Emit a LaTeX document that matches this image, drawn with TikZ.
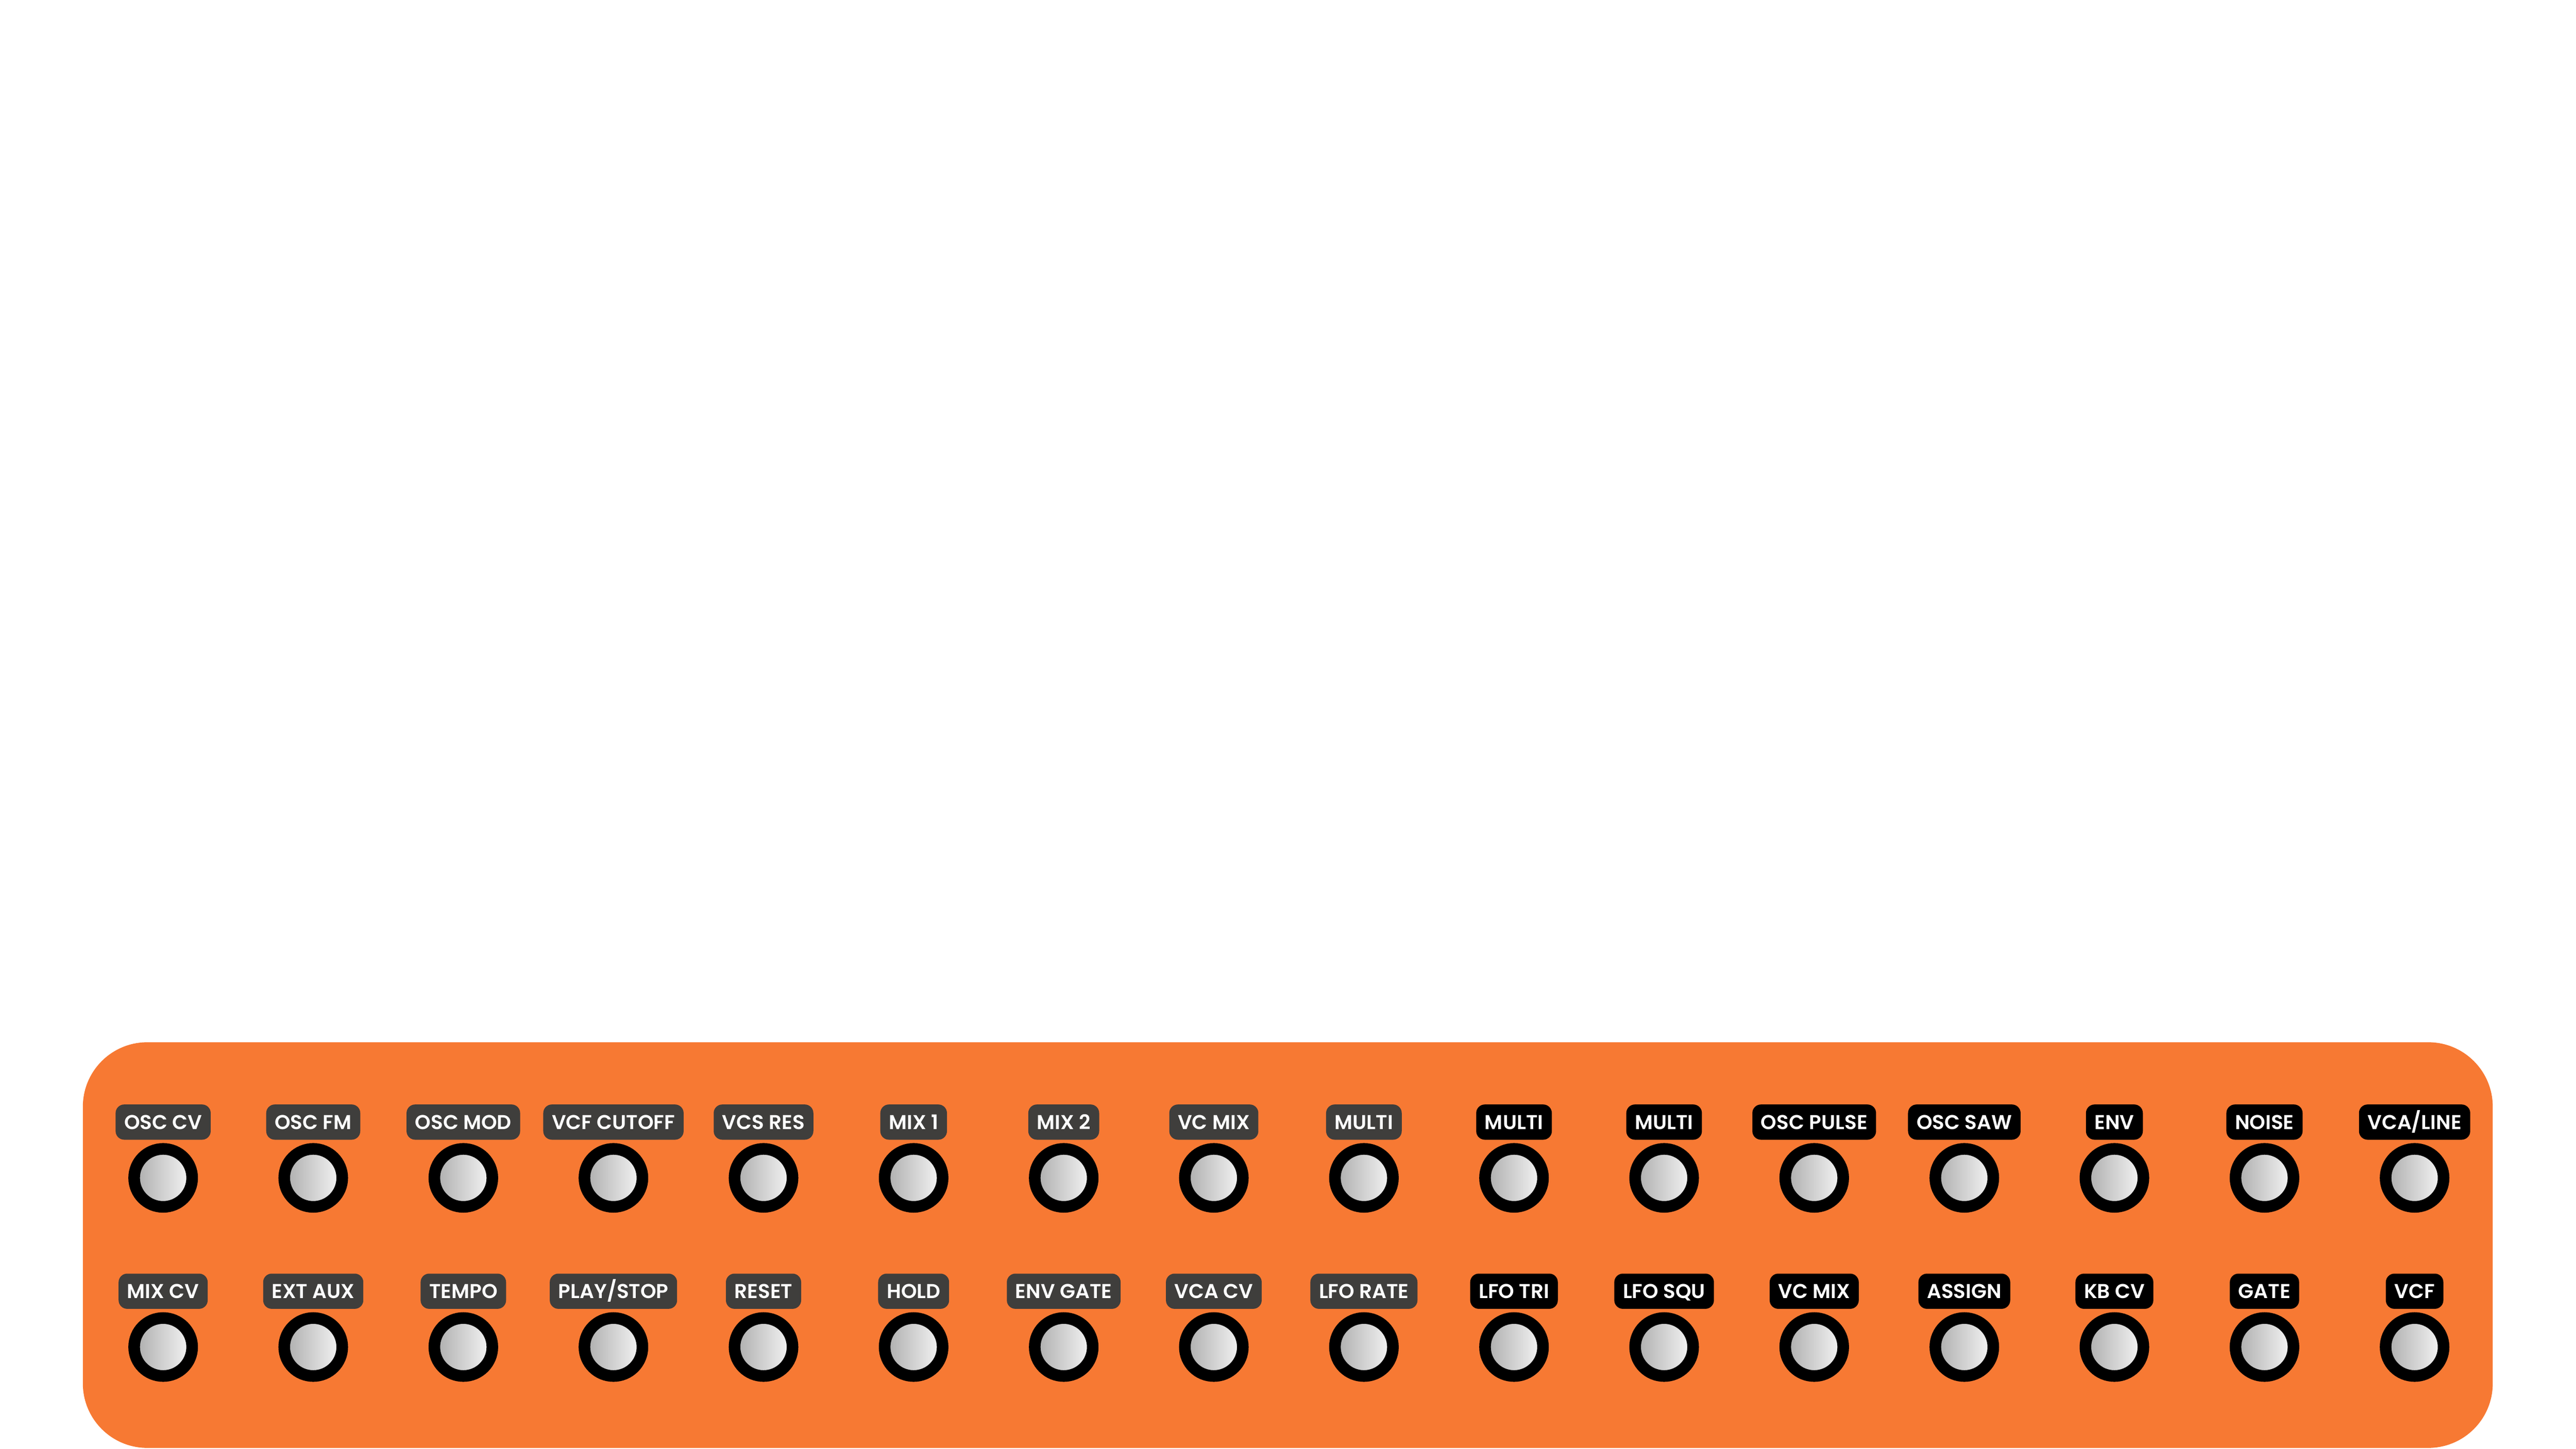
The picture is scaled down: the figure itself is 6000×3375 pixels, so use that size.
\documentclass[tikz,border=0pt]{standalone}
\usepackage{fontspec}
\setmainfont{Poppins}
\newfontfamily\tagfont{Poppins SemiBold}
\definecolor{panel}{RGB}{247,121,51}
\definecolor{tagdark}{RGB}{63,62,60}
\definecolor{tagblack}{RGB}{0,0,0}
\tikzset{
  tag/.style={rounded corners=0.2cm, minimum height=0.82cm, inner xsep=0.2cm, inner ysep=0pt,
    text height=0.34cm, text depth=0pt,
    text=white, font=\tagfont\fontsize{13.3pt}{14pt}\selectfont, anchor=center},
  jack/.style={circle, minimum size=1.35cm, inner sep=0pt, draw=black, line width=0.27cm,
    shading=axis, left color=black!33, right color=black!3, shading angle=90},
}
\begin{document}
\begin{tikzpicture}[x=0.01cm,y=-0.01cm]
\useasboundingbox (0,0) rectangle (6000,3375);
\fill[panel, rounded corners=1.5cm] (193,2428) rectangle (5806,3373);
\def\rowone{OSC CV,OSC FM,OSC MOD,VCF CUTOFF,VCS RES,MIX 1,MIX 2,VC MIX,MULTI,MULTI,MULTI,OSC PULSE,OSC SAW,ENV,NOISE,VCA/LINE}
\def\rowtwo{MIX CV,EXT AUX,TEMPO,PLAY/STOP,RESET,HOLD,ENV GATE,VCA CV,LFO RATE,LFO TRI,LFO SQU,VC MIX,ASSIGN,KB CV,GATE,VCF}
\foreach \t [count=\i] in \rowone {
  \pgfmathsetmacro{\xx}{380+(\i-1)*349.6}
  \ifnum\i<10 \def\tc{tagdark}\else\def\tc{tagblack}\fi
  \node[tag, fill=\tc] (ta\i) at (\xx,2614) {\t};
  \node[jack] (ja\i) at (\xx,2744) {};
}
\foreach \t [count=\i] in \rowtwo {
  \pgfmathsetmacro{\xx}{380+(\i-1)*349.6}
  \ifnum\i<10 \def\tc{tagdark}\else\def\tc{tagblack}\fi
  \node[tag, fill=\tc] (tb\i) at (\xx,3008) {\t};
  \node[jack] (jb\i) at (\xx,3138) {};
}
\end{tikzpicture}
\end{document}
